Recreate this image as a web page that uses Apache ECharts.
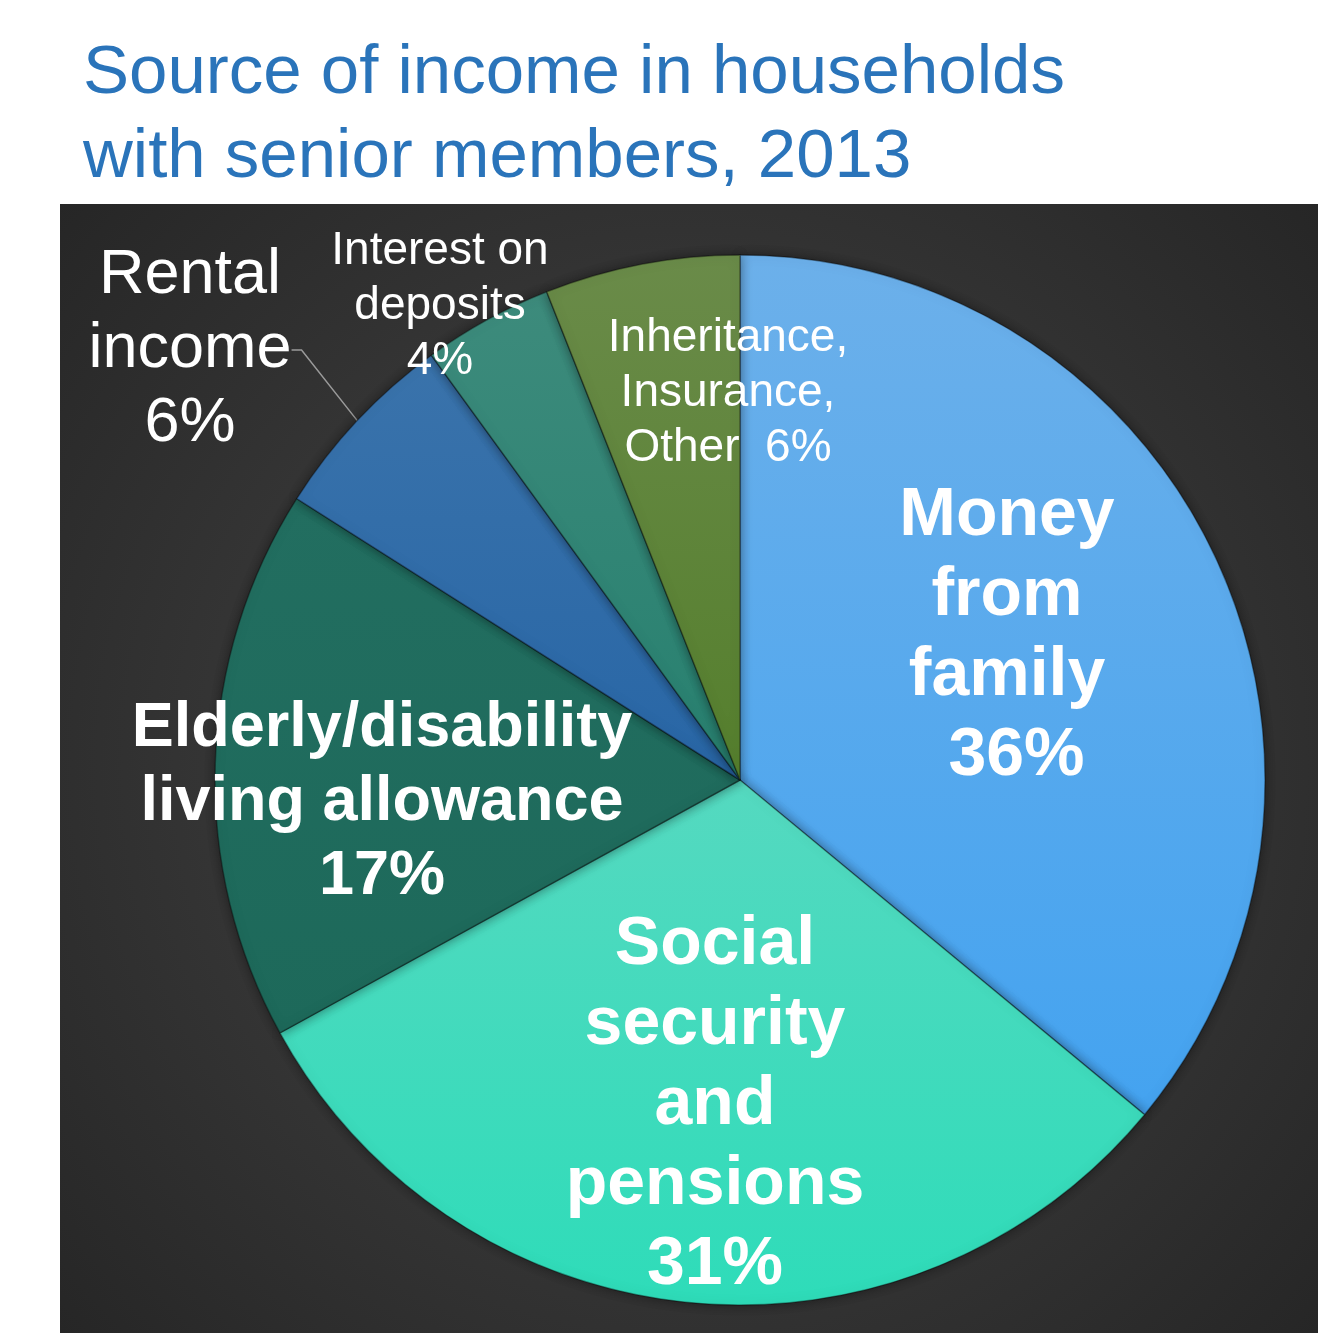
<!DOCTYPE html>
<html>
<head>
<meta charset="utf-8">
<style>
  html, body { margin: 0; padding: 0; background: #ffffff; }
  #chart { width: 1324px; height: 1333px; }
</style>
<script src="https://cdn.jsdelivr.net/npm/echarts@6/dist/echarts.min.js"></script>
</head>
<body>
<div id="chart"></div>
<script>
// ---- data ----
const titleText = 'Source of income in households\nwith senior members, 2013';
const categories = [
  'Money from family',
  'Social security and pensions',
  'Elderly/disability living allowance',
  'Rental income',
  'Interest on deposits',
  'Inheritance, Insurance, Other'
];
const values = [36, 31, 17, 6, 4, 6];
const labelNames = [
  'Money\nfrom\nfamily\n ',
  'Social\nsecurity\nand\npensions\n',
  'Elderly/disability\nliving allowance\n',
  'Rental\nincome\n',
  'Interest on\ndeposits\n',
  'Inheritance,\nInsurance,\nOther  '
];

// ---- styling ----
const FONT = '"Liberation Sans", Arial, sans-serif';
const sliceColors = [
  ['#6cb0ea', '#44a3f0'],
  ['#55d9c0', '#2edcb9'],
  ['#226e60', '#1d695a'],
  ['#3a73ab', '#2866a6'],
  ['#3d8b7c', '#27806f'],
  ['#6a8b49', '#557f2d']
];
const labelStyles = [
  { fontSize: 68, fontWeight: 'bold', lineHeight: 80 },
  { fontSize: 68, fontWeight: 'bold', lineHeight: 80 },
  { fontSize: 63, fontWeight: 'bold', lineHeight: 74 },
  { fontSize: 63, fontWeight: 'normal', lineHeight: 74 },
  { fontSize: 46, fontWeight: 'normal', lineHeight: 55 },
  { fontSize: 46, fontWeight: 'normal', lineHeight: 55 }
];
const labelPos = [
  [1007, 636], [715, 1105], [382, 803], [190, 350], [440, 306], [728, 393]
];

function grad(c) {
  return new echarts.graphic.LinearGradient(0, 0, 0, 1, [
    { offset: 0, color: c[0] }, { offset: 1, color: c[1] }
  ]);
}

const chart = echarts.init(document.getElementById('chart'), null, { renderer: 'canvas' });

const data = categories.map((name, i) => ({
  name: name,
  value: values[i],
  itemStyle: { color: grad(sliceColors[i]) },
  label: Object.assign({
    formatter: labelNames[i] + '{c}%',
    color: '#ffffff',
    fontFamily: FONT,
    align: 'center',
    position: i === 3 ? 'outside' : 'inside'
  }, labelStyles[i]),
  labelLine: { show: i === 3, length: 20, length2: 10, lineStyle: { color: '#9a9a9a', width: 1.5 } }
}));

chart.setOption({
  animation: false,
  backgroundColor: '#ffffff',
  title: {
    text: titleText,
    left: 78,
    top: 27,
    textStyle: {
      color: '#2a74ba',
      fontFamily: FONT,
      fontSize: 69,
      fontWeight: 'normal',
      lineHeight: 84
    }
  },
  graphic: [{
    type: 'rect',
    z: -10,
    shape: { x: 60, y: 204, width: 1258, height: 1129 },
    style: {
      fill: new echarts.graphic.RadialGradient(0.5, 0.5, 0.75, [
        { offset: 0, color: '#474747' },
        { offset: 1, color: '#262626' }
      ])
    }
  }],
  series: [{
    type: 'pie',
    center: [740, 780],
    radius: 525,
    startAngle: 90,
    clockwise: true,
    avoidLabelOverlap: false,
    itemStyle: {
      borderColor: 'rgba(0,0,0,0.35)',
      borderWidth: 1.5,
      shadowColor: 'rgba(0,0,0,0.45)',
      shadowBlur: 12
    },
    labelLayout: function (params) {
      const p = labelPos[params.dataIndex];
      return { x: p[0], y: p[1], align: 'center', verticalAlign: 'middle' };
    },
    data: data
  }]
});
</script>
</body>
</html>
